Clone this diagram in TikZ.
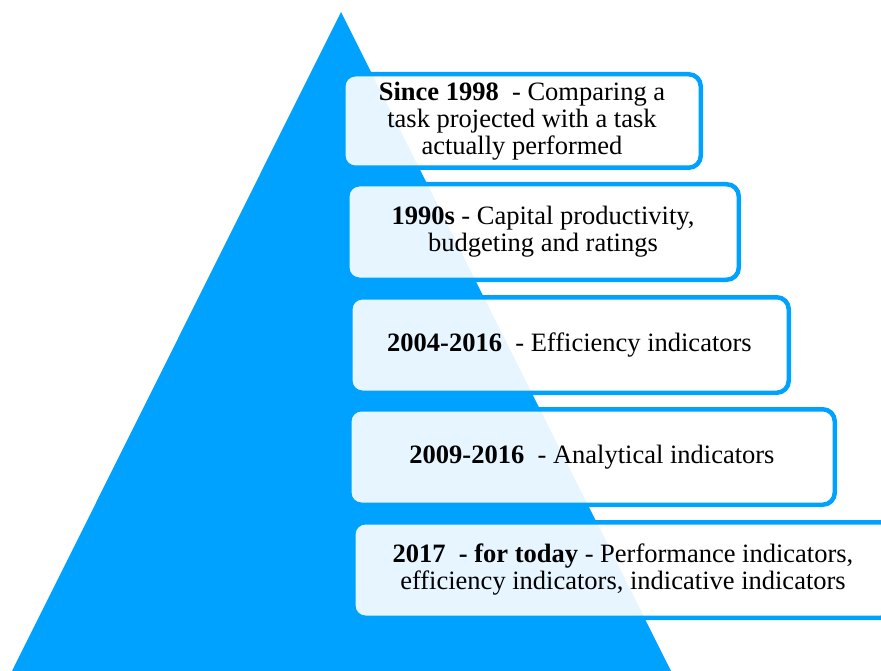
\documentclass[tikz,border=0pt]{standalone}
\usepackage{fontspec}
\setmainfont{Liberation Serif}
\usetikzlibrary{positioning}
\definecolor{pyrblue}{HTML}{00A2FF}

\begin{document}
\begin{tikzpicture} [x=1pt, y=-1pt, every node/.style={},
                    stage/.style={rectangle, rounded corners=12pt, draw=pyrblue, line width=4.5pt,
                    fill=white, fill opacity=0.9, text opacity=1, align=center, inner sep=0pt,
                    font=\fontsize{26.5}{27}\selectfont}]

\useasboundingbox (0,0) rectangle (881,671);

% pyramid
\fill[pyrblue] (341,12) -- (671,671) -- (12,671) -- cycle;

\node[stage, minimum width=357.5pt, minimum height=93.5pt] (s1) at (522,121)
    {\textbf{Since 1998}\ \ - Comparing a\\ task projected with a task\\ actually performed};
\node[stage, minimum width=391.5pt, minimum height=95.5pt] (s2) at (543,232)
    {\textbf{1990s} - Capital productivity,\\ budgeting and ratings};
\node[stage, minimum width=438.5pt, minimum height=95.5pt] (s3) at (569.5,345)
    {\textbf{2004-2016}\ \ - Efficiency indicators};
\node[stage, minimum width=485.5pt, minimum height=95.5pt] (s4) at (592,457)
    {\textbf{2009-2016}\ \ - Analytical indicators};
\node[stage, minimum width=539.5pt, minimum height=95.5pt] (s5) at (623,570)
    {\textbf{2017\ \ - for today} - Performance indicators,\\ efficiency indicators, indicative indicators};
\end{tikzpicture}
\end{document}
